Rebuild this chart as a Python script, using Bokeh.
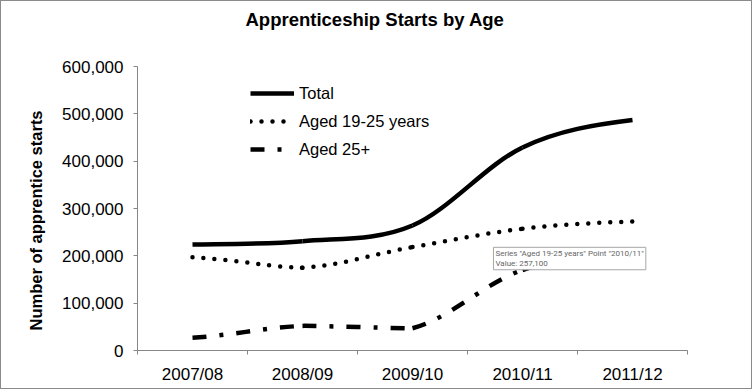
from bokeh.plotting import figure
from bokeh.models import (Range1d, FixedTicker, Legend, LegendItem, Label, Title,
                          NumeralTickFormatter, ColumnDataSource)
from bokeh.embed import file_html
from bokeh.resources import INLINE

# ---- data ----
categories = ["2007/08", "2008/09", "2009/10", "2010/11", "2011/12"]
total = [224000, 231000, 264000, 429000, 487000]
aged_19_25 = [197000, 175000, 218500, 257100, 272500]
aged_25_plus = [27000, 52000, 47000, 170000, 200000]
y_ticks = [0, 100000, 200000, 300000, 400000, 500000, 600000]

FONT = "Liberation Sans"
AXIS_GRAY = "#868686"

x_pos = list(range(len(categories)))


def smooth_source(xs, ys):
    """Bezier control points for a smoothed line (Catmull-Rom tangents,
    handles shortened on the flat side of a turning point)."""
    n = len(xs)
    sec = [(ys[i + 1] - ys[i]) / (xs[i + 1] - xs[i]) for i in range(n - 1)]
    m = [0.0] * n
    w_in = [1.0] * n
    w_out = [1.0] * n
    m[0] = sec[0] / 2.0
    m[-1] = sec[-1] / 2.0
    for i in range(1, n - 1):
        m[i] = (sec[i - 1] + sec[i]) / 2.0
        if sec[i - 1] * sec[i] <= 0:
            a, b = abs(sec[i - 1]), abs(sec[i])
            big = max(a, b) or 1.0
            w_in[i] = a / big
            w_out[i] = b / big
    d = dict(x0=[], y0=[], x1=[], y1=[], cx0=[], cy0=[], cx1=[], cy1=[])
    for i in range(n - 1):
        h = xs[i + 1] - xs[i]
        d["x0"].append(xs[i]); d["y0"].append(ys[i])
        d["x1"].append(xs[i + 1]); d["y1"].append(ys[i + 1])
        d["cx0"].append(xs[i] + w_out[i] * h / 3.0)
        d["cy0"].append(ys[i] + w_out[i] * m[i] * h / 3.0)
        d["cx1"].append(xs[i + 1] - w_in[i + 1] * h / 3.0)
        d["cy1"].append(ys[i + 1] - w_in[i + 1] * m[i + 1] * h / 3.0)
    return ColumnDataSource(d)


p = figure(width=752, height=389, output_backend="svg", toolbar_location=None,
           x_range=Range1d(-0.5, len(categories) - 0.5),
           y_range=Range1d(0, 600000),
           min_border_left=136, min_border_right=66,
           min_border_top=65, min_border_bottom=40,
           title="Apprenticeship Starts by Age")
p.styles = {"border": "1px solid #8a8a8a"}
p.outline_line_color = None
p.background_fill_color = "white"
p.border_fill_color = "white"
p.xgrid.visible = False
p.ygrid.visible = False

# visible chart title (outermost panel)
p.title.align = "left"
p.title.offset = 108
p.title.vertical_align = "middle"
p.title.standoff = 0
p.title.text_font = FONT
p.title.text_font_size = "18.5px"
p.title.text_font_style = "bold"
p.title.text_color = "black"

# blank spacer between the title and the plot area
p.add_layout(Title(text=" ", text_font_size="10px", standoff=23), "above")

styles = [
    (total, "Total", dict(line_dash="solid", line_cap="butt")),
    (aged_19_25, "Aged 19-25 years", dict(line_dash="0 11", line_cap="round")),
    (aged_25_plus, "Aged 25+", dict(line_dash="14 13 4 13", line_cap="butt")),
]

items = []
for ys, name, st in styles:
    src = smooth_source(x_pos, ys)
    r = p.bezier(x0="x0", y0="y0", x1="x1", y1="y1", cx0="cx0", cy0="cy0",
                 cx1="cx1", cy1="cy1", source=src, line_color="black",
                 line_width=4.5, **st)
    items.append(LegendItem(label=name, renderers=[r], index=0))

legend = Legend(items=items, location=(113, 191), margin=0, padding=0,
                border_line_color=None, background_fill_alpha=0,
                glyph_width=44, glyph_height=20, label_height=20, spacing=8,
                label_standoff=5, label_text_font=FONT,
                label_text_font_size="16.5px", label_text_color="black")
p.add_layout(legend)

# x axis
p.xaxis.ticker = FixedTicker(ticks=x_pos,
                             minor_ticks=[i - 0.5 for i in range(len(categories) + 1)])
p.xaxis.major_label_overrides = {i: c for i, c in enumerate(categories)}
p.xaxis.major_tick_out = 0
p.xaxis.major_tick_in = 0
p.xaxis.minor_tick_out = 4
p.xaxis.minor_tick_in = 0
p.xaxis.minor_tick_line_color = AXIS_GRAY
p.xaxis.axis_line_color = AXIS_GRAY
p.xaxis.major_label_standoff = 10
p.xaxis.major_label_text_font = FONT
p.xaxis.major_label_text_font_size = "17px"
p.xaxis.major_label_text_color = "black"

# y axis
p.yaxis.ticker = FixedTicker(ticks=y_ticks)
p.yaxis.formatter = NumeralTickFormatter(format="0,0")
p.yaxis.major_tick_out = 4
p.yaxis.major_tick_in = 0
p.yaxis.minor_tick_line_color = None
p.yaxis.major_tick_line_color = AXIS_GRAY
p.yaxis.axis_line_color = AXIS_GRAY
p.yaxis.major_label_standoff = 10
p.yaxis.major_label_text_font = FONT
p.yaxis.major_label_text_font_size = "17px"
p.yaxis.major_label_text_color = "black"

# y axis title (as a side title so it can sit a little below centre)
p.add_layout(Title(text="Number of apprentice starts", align="left", offset=20,
                   vertical_align="middle", standoff=28,
                   text_font=FONT, text_font_size="16.5px",
                   text_font_style="bold", text_color="black"), "left")

# hover-tip box visible in the reference
p.add_layout(Label(x=2.736, y=218000,
                   text=f'Series "{styles[1][1]}" Point "{categories[3]}"\nValue: {aged_19_25[3]:,}',
                   text_align="left", text_baseline="top",
                   text_font="Roboto", text_font_size="8px", text_color="#666666",
                   text_line_height=1.05,
                   background_fill_color="white", border_line_color="#a6a6a6",
                   border_line_width=1, padding=2))

open("out.html", "w").write(file_html(p, INLINE))
